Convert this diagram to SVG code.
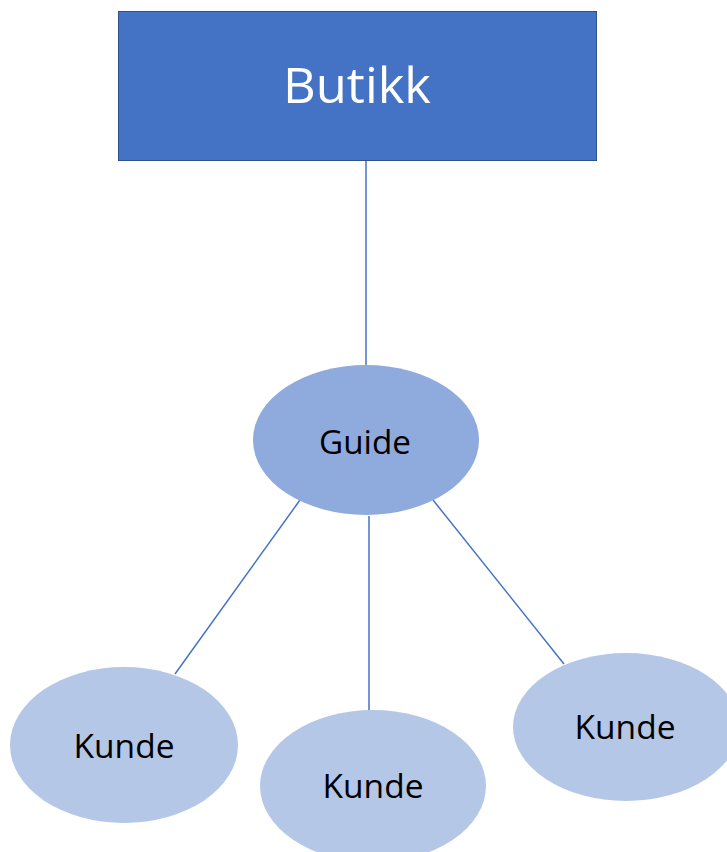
<svg xmlns="http://www.w3.org/2000/svg" width="727" height="852" viewBox="0 0 727 852">
<style>
.lbl{font-family:"Open Sans","Liberation Sans",sans-serif;text-anchor:middle;dominant-baseline:central}
.k{fill:#b4c7e7}
.c{stroke:#4472c4;stroke-width:1.5;fill:none}
</style>
<rect width="727" height="852" fill="#fff"/>
<g id="connectors">
<line class="c" x1="366" y1="161" x2="366" y2="366"/>
<line class="c" x1="300" y1="500" x2="175" y2="674"/>
<line class="c" x1="369" y1="516" x2="369" y2="711"/>
<line class="c" x1="433" y1="500" x2="564" y2="664"/>
</g>
<g id="butikk">
<rect x="118.5" y="11.5" width="478" height="149" fill="#4472c4" stroke="#2f528f" stroke-width="1"/>
<text class="lbl" x="357" y="84" font-size="50" fill="#fff" textLength="148" lengthAdjust="spacingAndGlyphs">Butikk</text>
</g>
<g id="guide">
<ellipse cx="366" cy="440" rx="113" ry="75" fill="#8faadc"/>
<text class="lbl" x="365" y="441" font-size="33" fill="#000" textLength="92" lengthAdjust="spacingAndGlyphs">Guide</text>
</g>
<g id="kunde1">
<ellipse class="k" cx="124" cy="745" rx="114" ry="78"/>
<text class="lbl" x="124" y="745" font-size="32" fill="#000" textLength="101" lengthAdjust="spacingAndGlyphs">Kunde</text>
</g>
<g id="kunde2">
<ellipse class="k" cx="373" cy="786" rx="113" ry="76"/>
<text class="lbl" x="373" y="785" font-size="32" fill="#000" textLength="101" lengthAdjust="spacingAndGlyphs">Kunde</text>
</g>
<g id="kunde3">
<ellipse class="k" cx="626" cy="727" rx="113" ry="74"/>
<text class="lbl" x="625" y="726" font-size="32" fill="#000" textLength="101" lengthAdjust="spacingAndGlyphs">Kunde</text>
</g>
</svg>
